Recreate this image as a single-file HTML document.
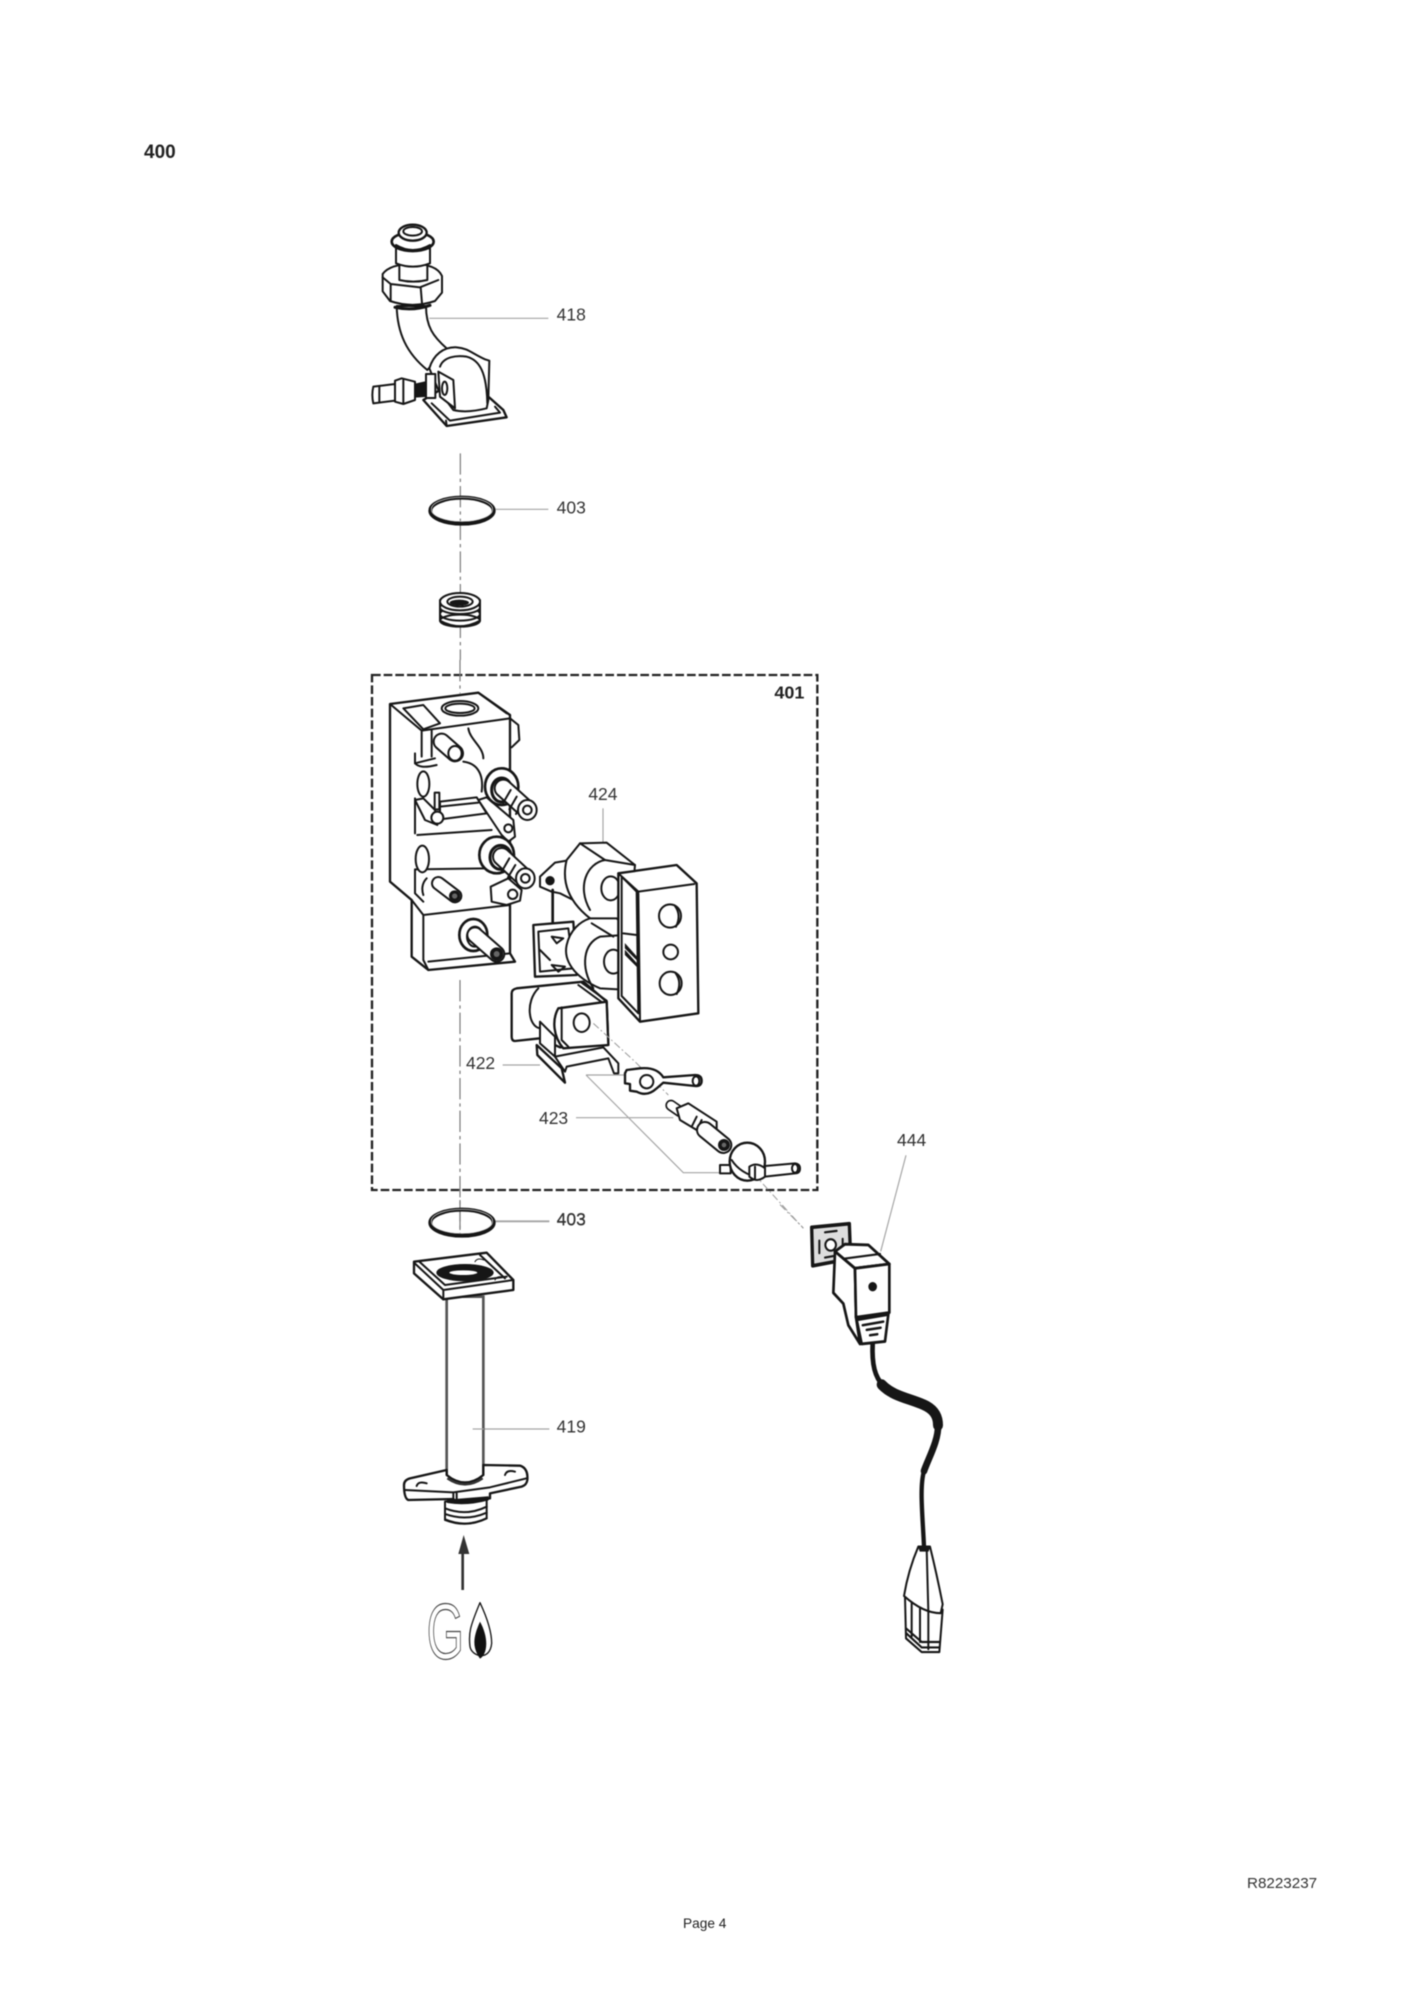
<!DOCTYPE html>
<html><head><meta charset="utf-8"><style>
html,body{margin:0;padding:0;background:#fff;width:1410px;height:1995px;overflow:hidden}
svg{display:block;filter:blur(.55px)}
.p{fill:#fff;stroke:#161616;stroke-width:6;stroke-linejoin:round;stroke-linecap:round}
.n{fill:none;stroke:#161616;stroke-width:6;stroke-linejoin:round;stroke-linecap:round}
.k{fill:#161616;stroke:#161616;stroke-width:2}
.l{fill:none;stroke:#a4a4a4;stroke-width:3.5}
.a{fill:none;stroke:#777;stroke-width:3.5;stroke-dasharray:64 12 10 12}
.d{fill:none;stroke:#999;stroke-width:3;stroke-dasharray:22 8 5 8}
.cb{fill:none;stroke:#161616;stroke-linecap:round}
.cw{fill:none;stroke:#fff;stroke-linecap:round}
text{font-family:"Liberation Sans",sans-serif}
.t{font-size:52.5px;fill:#333}
</style></head><body>
<svg width="1410" height="1995" viewBox="0 0 1410 1995" xmlns="http://www.w3.org/2000/svg">
<rect width="1410" height="1995" fill="#fff"/>
<text x="144" y="158" font-size="19" font-weight="bold" fill="#222">400</text>
<text x="1247" y="1888" font-size="15.2" fill="#333">R8223237</text>
<text x="683" y="1928" font-size="13.7" fill="#222">Page 4</text>
<text x="897" y="1146" font-size="17.5" fill="#333">444</text>

<!-- group A -->
<g transform="translate(340,200) scale(.33333)">
<path class="a" d="M361 760V1380"/>
<path class="l" d="M268 355H625M465 928H625"/>
<text class="t" x="650" y="362">418</text>
<text class="t" x="650" y="940">403</text>
<path class="p" d="M170 318C172 400 200 460 262 510L320 445C280 410 258 380 258 318Z"/>
<path class="p" d="M128 222Q150 192 218 192Q290 192 306 228L306 278L285 303Q218 326 150 303L128 274Z"/>
<path class="n" d="M128 232L152 252L240 262L295 240M152 252V303M242 262L246 310"/>
<path class="n" style="stroke-width:9" d="M165 322Q218 334 270 316"/>
<path class="p" d="M178 195H262V240Q220 250 178 240Z"/>
<path class="p" d="M168 145H270V190Q218 210 168 190Z"/>
<ellipse class="p" style="stroke-width:8" cx="218" cy="125" rx="63" ry="28"/>
<ellipse class="p" style="stroke-width:7" cx="218" cy="98" rx="42" ry="24"/>
<ellipse class="n" cx="218" cy="94" rx="28" ry="13"/>
<path class="n" d="M168 135Q218 165 270 135"/>
<path class="p" style="stroke-width:7" d="M250 600L320 678L500 652L490 630L445 590L300 570Z"/>
<path class="n" d="M275 610L330 662L480 638M320 678L318 662M465 620L480 638"/>
<path class="p" d="M268 505C280 465 310 440 350 442C385 445 395 460 435 478L448 482L445 600L440 625Q380 640 340 630L295 570Z"/>
<path class="n" d="M300 500C310 470 350 465 380 470C420 480 440 520 442 610"/>
<path class="p" d="M295 515L340 540L345 625L300 590Z"/>
<ellipse class="n" cx="314" cy="565" rx="8" ry="20"/>
<rect class="p" x="258" y="522" width="28" height="72"/>
<path class="k" d="M225 552L256 545V590L225 592Z"/>
<path class="p" d="M100 560L165 552V602L100 610Q94 585 100 560Z"/>
<path class="p" d="M165 542L185 535L225 545V600L190 612L165 605Z"/>
<path class="n" d="M118 560V606M190 540V610"/>
<ellipse class="n" style="stroke-width:12" cx="366" cy="932" rx="95" ry="39"/>
<ellipse class="n" style="stroke-width:2;stroke:#ddd" cx="366" cy="928" rx="92" ry="36"/>
<path class="p" d="M300 1200V1262Q360 1295 420 1262V1200Z"/>
<ellipse class="n" cx="360" cy="1262" rx="60" ry="18"/>
<ellipse class="n" cx="360" cy="1242" rx="60" ry="20"/>
<ellipse class="p" cx="360" cy="1222" rx="60" ry="20"/>
<ellipse class="p" cx="360" cy="1205" rx="60" ry="26"/>
<ellipse class="n" cx="360" cy="1205" rx="38" ry="15"/>
<ellipse class="k" cx="358" cy="1208" rx="28" ry="8"/>
</g>

<!-- group B -->
<g transform="translate(360,660) scale(.33333)">
<path d="M36 45H1372V1590H36Z" fill="none" stroke="#222" stroke-width="7" stroke-dasharray="26 9"/>
<path class="a" d="M300 0V100M300 960V1720"/>
<text x="1243" y="116" font-size="54" font-weight="bold" fill="#222">401</text>
<path class="p" style="stroke-width:7" d="M90 132L355 98L450 165L450 720L450 880L465 905L205 930L155 890V720L90 665Z"/>
<path class="n" d="M90 132L185 212L450 175M355 98L440 160M450 175L475 195L478 240L455 262M190 765L450 735M155 720L190 765V900L205 930M205 905L450 880M165 628V700L190 725M165 628L380 625M172 525L395 510M165 415V520"/>
<ellipse class="n" cx="300" cy="145" rx="55" ry="22"/>
<ellipse class="n" cx="300" cy="145" rx="44" ry="14"/>
<path class="p" d="M130 145L190 135L240 190L190 208Z"/>
<path class="n" d="M185 215V290M215 210V290M165 280V310L225 295M325 205C330 240 370 260 370 295"/>
<path class="n" d="M310 305C350 310 372 340 365 395M165 310C175 320 190 325 230 315"/>
<path class="cb" stroke-width="54" d="M245 245L285 280"/><path class="cw" stroke-width="42" d="M245 245L285 280"/>
<ellipse class="n" cx="285" cy="280" rx="20" ry="22"/>
<ellipse class="p" cx="190" cy="372" rx="18" ry="38"/>
<ellipse class="p" cx="187" cy="597" rx="20" ry="40"/>
<path class="p" d="M240 425L350 412L380 460L240 478Z"/>
<path class="n" d="M240 440L355 428"/>
<path class="p" d="M165 420L190 415L225 450L232 495L195 480Z"/>
<rect class="p" x="224" y="398" width="14" height="50"/>
<circle class="p" cx="232" cy="473" r="18"/>
<path class="p" d="M355 420L380 412L460 480L465 530L445 545L425 525Z"/>
<circle class="n" cx="445" cy="505" r="12"/>
<ellipse class="p" style="stroke-width:8" cx="425" cy="380" rx="50" ry="55"/>
<ellipse class="p" style="stroke-width:9" cx="425" cy="390" rx="30" ry="36"/>
<path class="cb" stroke-width="58" d="M430 385L500 448"/><path class="cw" stroke-width="46" d="M430 385L500 448"/>
<path class="n" d="M452 390L430 428M470 410L448 448M488 425L468 462"/>
<ellipse class="p" cx="502" cy="450" rx="28" ry="30"/><circle class="n" cx="502" cy="450" r="13"/>
<path class="p" d="M392 680L445 655L485 690L480 722L440 735L395 725Z"/>
<circle class="n" cx="458" cy="703" r="14"/>
<ellipse class="p" style="stroke-width:8" cx="410" cy="585" rx="52" ry="55"/>
<ellipse class="p" style="stroke-width:9" cx="422" cy="592" rx="32" ry="36"/>
<path class="cb" stroke-width="58" d="M425 590L495 655"/><path class="cw" stroke-width="46" d="M425 590L495 655"/>
<path class="n" d="M448 595L425 635M466 615L444 652"/>
<ellipse class="p" cx="496" cy="655" rx="28" ry="30"/><circle class="n" cx="496" cy="655" r="13"/>
<path class="cb" stroke-width="44" d="M235 670L285 708"/><path class="cw" stroke-width="32" d="M235 670L285 708"/>
<circle cx="284" cy="708" r="17" fill="#161616"/><circle cx="284" cy="708" r="8" fill="#666"/>
<path class="n" d="M200 655C185 670 185 690 190 705"/>
<ellipse class="p" style="stroke-width:8" cx="340" cy="825" rx="42" ry="48"/>
<ellipse class="n" cx="345" cy="830" rx="24" ry="30"/>
<path class="cb" stroke-width="52" d="M345 825L410 882"/><path class="cw" stroke-width="40" d="M345 825L410 882"/>
<circle cx="410" cy="882" r="20" fill="#161616"/><circle cx="410" cy="882" r="9" fill="#666"/>

<path class="l" d="M729 445V570"/>
<text class="t" x="685" y="420">424</text>
<!-- coils -->
<path class="p" d="M540 650L585 608L620 602L640 720L600 700L575 695L540 680Z"/>
<circle cx="570" cy="662" r="14" fill="#161616"/>
<path class="n" style="stroke-width:8" d="M578 690V795"/>
<path class="p" d="M620 600L660 550L740 548L825 615L810 780L690 775C620 720 605 660 620 600Z"/>
<path class="n" d="M660 550L735 600L825 615M735 600C680 610 650 680 690 750"/>
<ellipse class="n" cx="752" cy="685" rx="28" ry="36"/>
<path class="p" style="stroke-width:7" d="M520 795L640 785L650 945L525 950Z"/>
<path class="p" d="M535 815L625 805L640 925L540 935Z"/>
<path class="n" d="M575 830L610 835L590 850ZM575 915L615 920L595 935ZM540 870L570 900M620 870L640 895"/>
<path class="p" d="M620 855C630 810 660 785 690 775L770 775L830 830L810 990L720 985C640 950 610 900 620 855Z"/>
<path class="n" d="M695 790L760 830M700 985C660 920 670 850 720 830L790 825"/>
<ellipse class="n" cx="760" cy="905" rx="28" ry="36"/>
<path class="p" style="stroke-width:7" d="M775 640L950 615L1010 670L1015 1060L840 1085L775 1015Z"/>
<path class="n" d="M835 695L1003 672M775 640L835 695L840 1085M785 650L830 695L835 1060L785 1008Z"/>
<path class="k" style="stroke-width:1" d="M795 850L835 895V905L795 865ZM795 870L835 915V925L795 885Z"/>
<path class="n" d="M790 820L830 825"/>
<ellipse class="n" cx="930" cy="768" rx="33" ry="35"/>
<path class="n" d="M945 738Q965 765 948 800"/>
<circle class="n" cx="932" cy="876" r="22"/>
<ellipse class="n" cx="932" cy="970" rx="33" ry="35"/>
<path class="n" d="M947 940Q967 968 950 1002"/>
</g>

<!-- group E -->
<g transform="translate(460,960) scale(.33333)">
<path class="l" d="M128 315H240M378 345H495M378 345L670 638H780M348 473H640M105 785H268"/>
<text class="t" x="18" y="327">422</text>
<text class="t" x="237" y="492">423</text>
<text class="t" x="290" y="795">403</text>
<path class="p" style="stroke-width:7" d="M155 100Q155 88 170 85L370 65L440 125L445 255L300 262L240 235L165 243Q155 243 155 230Z"/>
<path class="n" d="M235 85C195 125 205 200 240 205M355 75L430 130M365 68L440 122"/>
<path class="p" style="stroke-width:7" d="M295 145L440 125L445 255L310 265C280 230 275 180 295 145Z"/>
<path class="n" d="M305 142V240L325 260"/>
<ellipse class="n" cx="365" cy="188" rx="24" ry="28"/>
<path class="d" d="M400 190L525 305L625 405M880 640L1030 805"/>
<path class="p" d="M240 185L285 230L285 290L240 250Z"/>
<path class="p" d="M285 290L430 262L475 310V340H462L445 295L320 320L315 335Z"/>
<path class="p" style="stroke-width:7" d="M230 255L305 325L315 368L232 285Z"/>
<path class="p" style="stroke-width:7" d="M495 340V370L510 372V392L530 395Q560 412 590 385L610 368L705 378Q725 380 725 362Q725 345 705 345L610 352Q590 320 540 325L500 330Z"/>
<circle class="p" cx="560" cy="365" r="20"/>
<ellipse class="n" cx="708" cy="363" rx="10" ry="14"/>
<path class="cb" stroke-width="34" d="M633 436L660 455"/><path class="cw" stroke-width="24" d="M633 436L660 455"/>
<path class="p" d="M650 445L685 430L770 485L770 510L710 510L660 480Z"/>
<path class="n" d="M710 470L695 500M725 480L710 510"/>
<path class="cb" stroke-width="54" d="M735 510L790 555"/><path class="cw" stroke-width="42" d="M735 510L790 555"/>
<circle cx="792" cy="555" r="18" fill="#161616"/><circle cx="792" cy="555" r="7" fill="#666"/>
<rect class="p" x="780" y="615" width="32" height="25"/>
<ellipse class="p" style="stroke-width:7" cx="862" cy="605" rx="53" ry="57"/>
<path class="n" d="M815 600Q840 640 900 655"/>
<path class="p" d="M915 618L1005 610Q1020 612 1020 625Q1020 640 1005 640L915 650Z"/>
<ellipse class="n" cx="1005" cy="625" rx="9" ry="13"/>
<path class="p" d="M868 620Q890 605 915 625V650Q890 670 868 650Z"/>
<path class="n" d="M885 620V655"/>
</g>

<!-- group C -->
<g transform="translate(390,1200) scale(.33333)">
<path class="a" d="M210 0V112"/>
<path class="l" d="M315 63H478M248 687H478"/>
<text class="t" x="500" y="76">403</text>
<text class="t" x="500" y="698">419</text>
<ellipse class="n" style="stroke-width:12" cx="216" cy="68" rx="95" ry="39"/>
<ellipse class="n" style="stroke-width:2;stroke:#ddd" cx="216" cy="64" rx="92" ry="36"/>
<path d="M170 290V835Q225 880 280 835V290Z" fill="#fff" stroke="#555" stroke-width="8"/>
<path class="l" d="M248 687H282"/>
<path class="p" style="stroke-width:7" d="M42 855Q42 840 60 835L170 810V825Q225 870 280 825V795L390 797Q415 805 412 840Q410 855 395 860L300 880V895L200 905L190 897L55 900Q42 895 42 855Z"/>
<path class="n" d="M45 870L190 877L300 862L410 835M190 877V897M200 880V905M80 858Q85 842 110 850M345 825Q350 808 375 815"/>
<path d="M172 835Q225 872 278 835" fill="none" stroke="#333" stroke-width="7"/>
<path class="p" d="M165 905L290 895V955Q228 985 165 960Z"/>
<path class="n" d="M165 925Q228 950 290 920M165 942Q228 965 290 938M165 958Q228 985 290 955"/>
<path class="k" d="M172 900L295 890V900Q230 918 172 908Z"/>
<path class="p" style="stroke-width:7" d="M72 185L290 158L370 240V270L160 298L72 220Z"/>
<path class="n" d="M72 188L160 270L370 240M160 270V298M88 185L165 255L350 230M270 165L345 235"/>
<ellipse class="k" cx="225" cy="218" rx="85" ry="25"/>
<ellipse cx="220" cy="218" rx="42" ry="7" fill="#fff"/>
<path class="n" style="stroke-width:3" d="M255 185Q262 172 282 180M315 240Q322 225 340 232"/>
<path d="M218 1170V1060" stroke="#333" stroke-width="8" fill="none"/>
<path d="M221 1005L238 1062H205Z" fill="#333"/>
<text x="110" y="1376" font-size="236" fill="#fff" stroke="#444" stroke-width="3.5" textLength="112" lengthAdjust="spacingAndGlyphs">G</text>
<path class="p" d="M270 1208C240 1280 235 1300 240 1340C245 1370 300 1385 305 1330C305 1290 285 1240 270 1208Z" style="stroke-width:4"/>
<path fill="#111" d="M270 1265C250 1310 245 1340 270 1376C295 1360 295 1310 270 1265Z"/>
</g>

<!-- group D -->
<g transform="translate(780,1120) scale(.33333,.36)">
<path class="l" d="M378 98L302 365"/>
<path class="d" d="M300 375L280 440M0 235L70 300"/>
<path fill="#ddd" stroke="#161616" stroke-width="10" stroke-linejoin="round" d="M95 298L208 288L212 385L98 405Z"/>
<circle class="p" style="stroke-width:6" cx="152" cy="347" r="16"/>
<path class="n" d="M118 335V370M135 312L170 308M188 330V360M135 382L160 378"/>
<path class="cb" stroke-width="14" d="M278 620C275 680 285 715 310 738"/>
<path class="cb" stroke-width="30" d="M305 735C340 770 400 775 440 795C465 808 474 825 474 848"/>
<path class="cb" stroke-width="20" d="M474 848C476 890 445 940 432 975"/>
<path class="cb" stroke-width="13" d="M432 975C418 1020 428 1100 432 1185"/>
<path class="p" style="stroke-width:8" d="M165 365L160 480L190 510L205 570L240 622L228 548L225 412Z"/>
<path class="p" style="stroke-width:8" d="M165 365L195 345L265 347L328 400L225 412Z"/>
<path class="n" d="M195 385L300 372"/>
<path class="p" style="stroke-width:8" d="M225 412L328 400V535L228 548Z"/>
<circle class="k" cx="278" cy="463" r="12"/>
<path class="p" style="stroke-width:8" d="M230 555L325 540L315 615L245 622Z"/>
<path class="n" d="M248 570L310 560M260 583L302 577M270 598L292 595" style="stroke-width:7"/>
<path class="p" d="M375 1325L378 1440L425 1478H478L488 1360Z"/>
<path class="n" d="M395 1340V1435M420 1355V1450M445 1365V1470M378 1412L425 1450H478M378 1425L425 1465H478"/>
<path class="p" d="M415 1185H450Q470 1260 488 1345L482 1370Q430 1370 372 1322Q385 1250 415 1185Z"/>
<path class="n" d="M440 1190L445 1365"/>
<path class="k" d="M415 1185L450 1185L445 1198L420 1198Z"/>
</g>
</svg>
</body></html>
